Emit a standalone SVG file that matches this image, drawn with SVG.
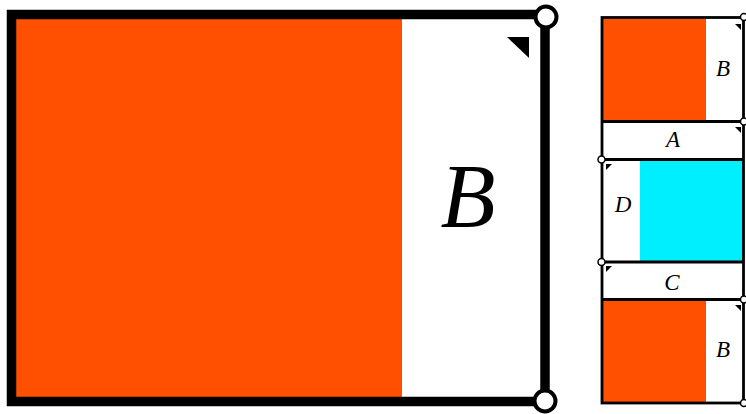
<svg xmlns="http://www.w3.org/2000/svg" width="746" height="414" viewBox="0 0 746 414">
<style>
.lbl{font-family:"Liberation Serif","DejaVu Serif",serif;font-style:italic;fill:#000;text-anchor:middle}
.or{fill:#ff4f00}
.cy{fill:#00efff}
.thin{fill:none;stroke:#000;stroke-width:2.8}
.pt{fill:#fff;stroke:#000;stroke-width:1.5}
</style>
<rect width="746" height="414" fill="#fff"/>
<g id="main">
<rect class="or" x="16" y="19" width="386" height="378"/>
<rect x="11.5" y="14.5" width="533.5" height="387" fill="none" stroke="#000" stroke-width="9.5"/>
<polygon points="507,37 529,37 529,58" fill="#000"/>
<text class="lbl" x="468" y="227" font-size="90">B</text>
<circle cx="546" cy="17" r="10.5" fill="#fff" stroke="#000" stroke-width="4"/>
<circle cx="545" cy="401" r="10.5" fill="#fff" stroke="#000" stroke-width="4"/>
</g>
<g id="boxB1">
<rect class="or" x="603" y="19" width="103" height="101"/>
<polygon points="735,24 741,24 741,30" fill="#000"/>
<text class="lbl" x="723" y="76" font-size="23">B</text>
</g>
<g id="boxA">
<polygon points="735,127 741,127 741,133" fill="#000"/>
<text class="lbl" x="673" y="147" font-size="23">A</text>
</g>
<g id="boxD">
<rect class="cy" x="640" y="160.5" width="104" height="100.5"/>
<polygon points="606,164 612,164 606,170" fill="#000"/>
<text class="lbl" x="623" y="212" font-size="23">D</text>
</g>
<g id="boxC">
<polygon points="606,266 612,266 606,272" fill="#000"/>
<text class="lbl" x="672" y="290" font-size="23">C</text>
</g>
<g id="boxB2">
<rect class="or" x="603" y="301" width="103" height="101"/>
<polygon points="735,305 741,305 741,311" fill="#000"/>
<text class="lbl" x="723" y="357" font-size="23">B</text>
</g>
<g id="connectors">
<rect class="thin" x="602" y="17.5" width="141.5" height="385.5"/>
<line class="thin" x1="602" y1="121.5" x2="744" y2="121.5"/>
<line class="thin" x1="602" y1="159.5" x2="744" y2="159.5"/>
<line class="thin" x1="602" y1="262" x2="744" y2="262"/>
<line class="thin" x1="602" y1="299.5" x2="744" y2="299.5"/>
<circle class="pt" cx="744" cy="17" r="3.5"/>
<circle class="pt" cx="744" cy="121.5" r="3.5"/>
<circle class="pt" cx="601.5" cy="159.5" r="3.5"/>
<circle class="pt" cx="601.5" cy="262" r="3.5"/>
<circle class="pt" cx="744" cy="299.5" r="3.5"/>
<circle class="pt" cx="744" cy="403" r="3.5"/>
</g>
</svg>
